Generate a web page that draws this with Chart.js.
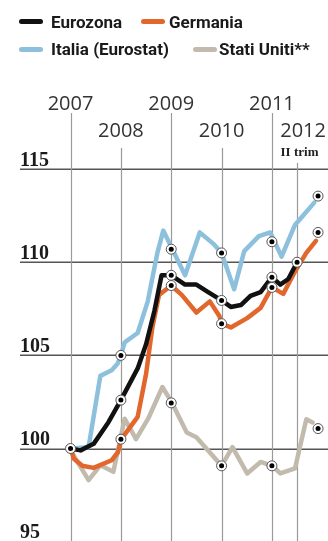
<!DOCTYPE html>
<html><head><meta charset="utf-8">
<script src="https://cdn.jsdelivr.net/npm/chart.js@4.4.1/dist/chart.umd.min.js"></script>
<style>
html,body{margin:0;padding:0;background:#fff;overflow:hidden;width:328px;height:541px;}
#wrap{position:relative;width:328px;height:541px;overflow:hidden;background:#fff;}
#c{position:absolute;left:0;top:0;}
.lg{position:absolute;font-family:Roboto,"Noto Sans",sans-serif;font-weight:700;font-size:17px;line-height:20px;color:#1a1a1a;white-space:nowrap;}
.sw{position:absolute;height:5px;border-radius:3px;width:24px;}
</style></head>
<body><div id="wrap"><canvas id="c" width="340" height="570"></canvas><div id="legend"></div></div>
<script>
// ---- data ----
const seriesNames = ['Eurozona', 'Germania', 'Italia (Eurostat)', 'Stati Uniti**'];
const yearLabels = ['2007', '2008', '2009', '2010', '2011', '2012'];
const yearMonths = [0, 12, 24, 36, 48, 60];          // months since the 2007 line
const quarterLabel = 'II trim';
const quarterMonth = 54;
const yTickValues = [95, 100, 105, 110, 115];

const euroMonths = [0, 2.4, 5.5, 9, 12, 16, 18, 20, 21.7, 24, 27.3, 30, 32.8, 36, 38.2, 40.6, 42.9, 45.3, 48, 50, 51.9, 54];
const euroValues = [100, 99.9, 100.25, 101.4, 102.6, 104.3, 105.6, 107.4, 109.3, 109.3, 108.8, 108.8, 108.4, 107.95, 107.6, 107.7, 108.2, 108.4, 109.2, 108.8, 109.1, 110.0];

const gerMonths = [0, 0.8, 2.8, 5.5, 9.8, 11.3, 12.1, 16, 18, 19.5, 21.1, 24, 26.5, 30, 33.2, 35.5, 36, 38.2, 42.1, 45.3, 48, 50.7, 53.5, 56.2, 58.5];
const gerValues = [100, 99.45, 99.07, 98.96, 99.37, 99.8, 100.5, 101.7, 104.0, 106.5, 108.25, 108.75, 108.25, 107.3, 107.9, 107.1, 106.7, 106.5, 107.0, 107.55, 108.65, 108.3, 109.5, 110.5, 111.15];

const itaMonths = [0, 4.3, 7.1, 9.8, 11.2, 12, 12.9, 16, 18.4, 20.7, 22.1, 27.3, 30.8, 34, 36, 39, 41.4, 44.9, 47.6, 50.3, 53.5, 55.4, 58.1];
const itaValues = [100, 100.07, 103.9, 104.2, 104.55, 105.0, 105.7, 106.2, 107.9, 110.5, 111.7, 109.3, 111.6, 111.0, 110.5, 108.55, 110.6, 111.4, 111.6, 110.3, 112.0, 112.5, 113.2];

const usaMonths = [0, 0.8, 4.3, 7.1, 10.2, 12.9, 15.6, 18.5, 21.9, 24.2, 27.7, 30, 36, 38.6, 42.1, 45.3, 48.1, 50, 53.5, 56.2, 57.7];
const usaValues = [100, 99.6, 98.3, 99.1, 98.75, 101.6, 100.5, 101.6, 103.3, 102.45, 100.86, 100.6, 99.07, 100.07, 98.66, 99.28, 99.07, 98.66, 98.93, 101.57, 101.4];

// highlighted points (circled dots)
const euroMarkMonths = [0, 12, 24, 36, 48, 54];
const euroMarkValues = [100, 102.6, 109.3, 107.95, 109.2, 110.0];
const gerMarkMonths = [12, 24, 36, 48, 59];
const gerMarkValues = [100.5, 108.75, 106.7, 108.65, 111.6];
const itaMarkMonths = [12, 24, 36, 48, 59];
const itaMarkValues = [105.0, 110.7, 110.5, 111.1, 113.55];
const usaMarkMonths = [24, 36, 48, 59];
const usaMarkValues = [102.45, 99.07, 99.07, 101.07];

// ---- styles ----
const colors = ['#111111', '#e2672c', '#8cc0dc', '#c2bbad'];
const pts = (ms, vs) => ms.map((m, i) => ({x: m, y: vs[i]}));
const markPts = [].concat(pts(euroMarkMonths, euroMarkValues), pts(gerMarkMonths, gerMarkValues),
                          pts(itaMarkMonths, itaMarkValues), pts(usaMarkMonths, usaMarkValues));

const lineDs = (label, data, color, order) => ({
  type: 'line', label, data, borderColor: color, borderWidth: 4.5, pointRadius: 0,
  tension: 0, fill: false, borderJoinStyle: 'round', borderCapStyle: 'round', order
});

// legend (HTML)
const legendLayout = [
  {sw: 19, tx: 51, top: 11.5},
  {sw: 141, tx: 169, top: 11.5},
  {sw: 19, tx: 51, top: 39},
  {sw: 193, tx: 219, top: 39}
];
const lg = document.getElementById('legend');
seriesNames.forEach((n, i) => {
  const L = legendLayout[i];
  const s = document.createElement('div'); s.className = 'sw';
  s.style.left = L.sw + 'px'; s.style.top = (L.top + 7.5) + 'px'; s.style.background = colors[i];
  const t = document.createElement('div'); t.className = 'lg';
  t.style.left = L.tx + 'px'; t.style.top = L.top + 'px'; t.textContent = n;
  lg.appendChild(s); lg.appendChild(t);
});

const decor = {
  id: 'decor',
  beforeDatasetsDraw(chart) {
    const {ctx, chartArea: a, scales: {x, y}} = chart;
    ctx.save();
    // horizontal grid
    ctx.strokeStyle = '#555'; ctx.lineWidth = 1.6;
    yTickValues.forEach(v => {
      const py = Math.round(y.getPixelForValue(v)) + 0.25;
      ctx.beginPath(); ctx.moveTo(a.left, py); ctx.lineTo(a.right, py); ctx.stroke();
    });
    // vertical year lines
    ctx.strokeStyle = '#9a9a9a'; ctx.lineWidth = 1.2;
    yearMonths.forEach((m, i) => {
      if (m >= quarterMonth) return;
      const px = Math.round(x.getPixelForValue(m)) + 0.5;
      const top = i % 2 === 0 ? 113 : 148;
      ctx.beginPath(); ctx.moveTo(px, top); ctx.lineTo(px, a.bottom); ctx.stroke();
    });
    const qx = Math.round(x.getPixelForValue(quarterMonth)) + 0.5;
    ctx.beginPath(); ctx.moveTo(qx, 163); ctx.lineTo(qx, a.bottom); ctx.stroke();
    // year labels
    ctx.fillStyle = '#333'; ctx.font = '400 20px "Open Sans"'; ctx.textAlign = 'center'; ctx.textBaseline = 'alphabetic';
    yearMonths.forEach((m, i) => {
      let px = x.getPixelForValue(m);
      if (m > quarterMonth) px = x.getPixelForValue(quarterMonth) + 6;
      ctx.fillText(yearLabels[i], px, i % 2 === 0 ? 110 : 137);
    });
    ctx.font = 'bold 13px "Liberation Serif"'; ctx.fillStyle = '#222';
    ctx.fillText(quarterLabel, qx + 2, 156);
    // y labels
    ctx.font = 'bold 20px "Liberation Serif"'; ctx.textAlign = 'left'; ctx.fillStyle = '#1a1a1a';
    yTickValues.forEach(v => {
      const py = Math.min(y.getPixelForValue(v) - 3.5, 538);
      ctx.fillText(String(v), a.left, py);
    });
    ctx.restore();
  }
};

new Chart(document.getElementById('c'), {
  data: {
    datasets: [
      {type: 'scatter', label: 'dots', data: markPts, pointRadius: 2.5, pointBackgroundColor: '#000', pointBorderWidth: 0, order: 0},
      {type: 'scatter', label: 'rings', data: markPts, pointRadius: 5, pointBackgroundColor: '#fff', pointBorderColor: '#555', pointBorderWidth: 1, order: 0.5},
      lineDs(seriesNames[0], pts(euroMonths, euroValues), colors[0], 1),
      lineDs(seriesNames[1], pts(gerMonths, gerValues), colors[1], 2),
      lineDs(seriesNames[2], pts(itaMonths, itaValues), colors[2], 3),
      lineDs(seriesNames[3], pts(usaMonths, usaValues), colors[3], 4)
    ]
  },
  options: {
    responsive: false, animation: false, devicePixelRatio: 1,
    layout: {padding: {left: 20, right: 0, top: 100, bottom: 0}},
    plugins: {legend: {display: false}, tooltip: {enabled: false}},
    scales: {
      x: {type: 'linear', display: false, min: -12.05, max: 62.8},
      y: {type: 'linear', display: false, min: 93.8, max: 118.71}
    }
  },
  plugins: [decor]
});
</script>
</body></html>
